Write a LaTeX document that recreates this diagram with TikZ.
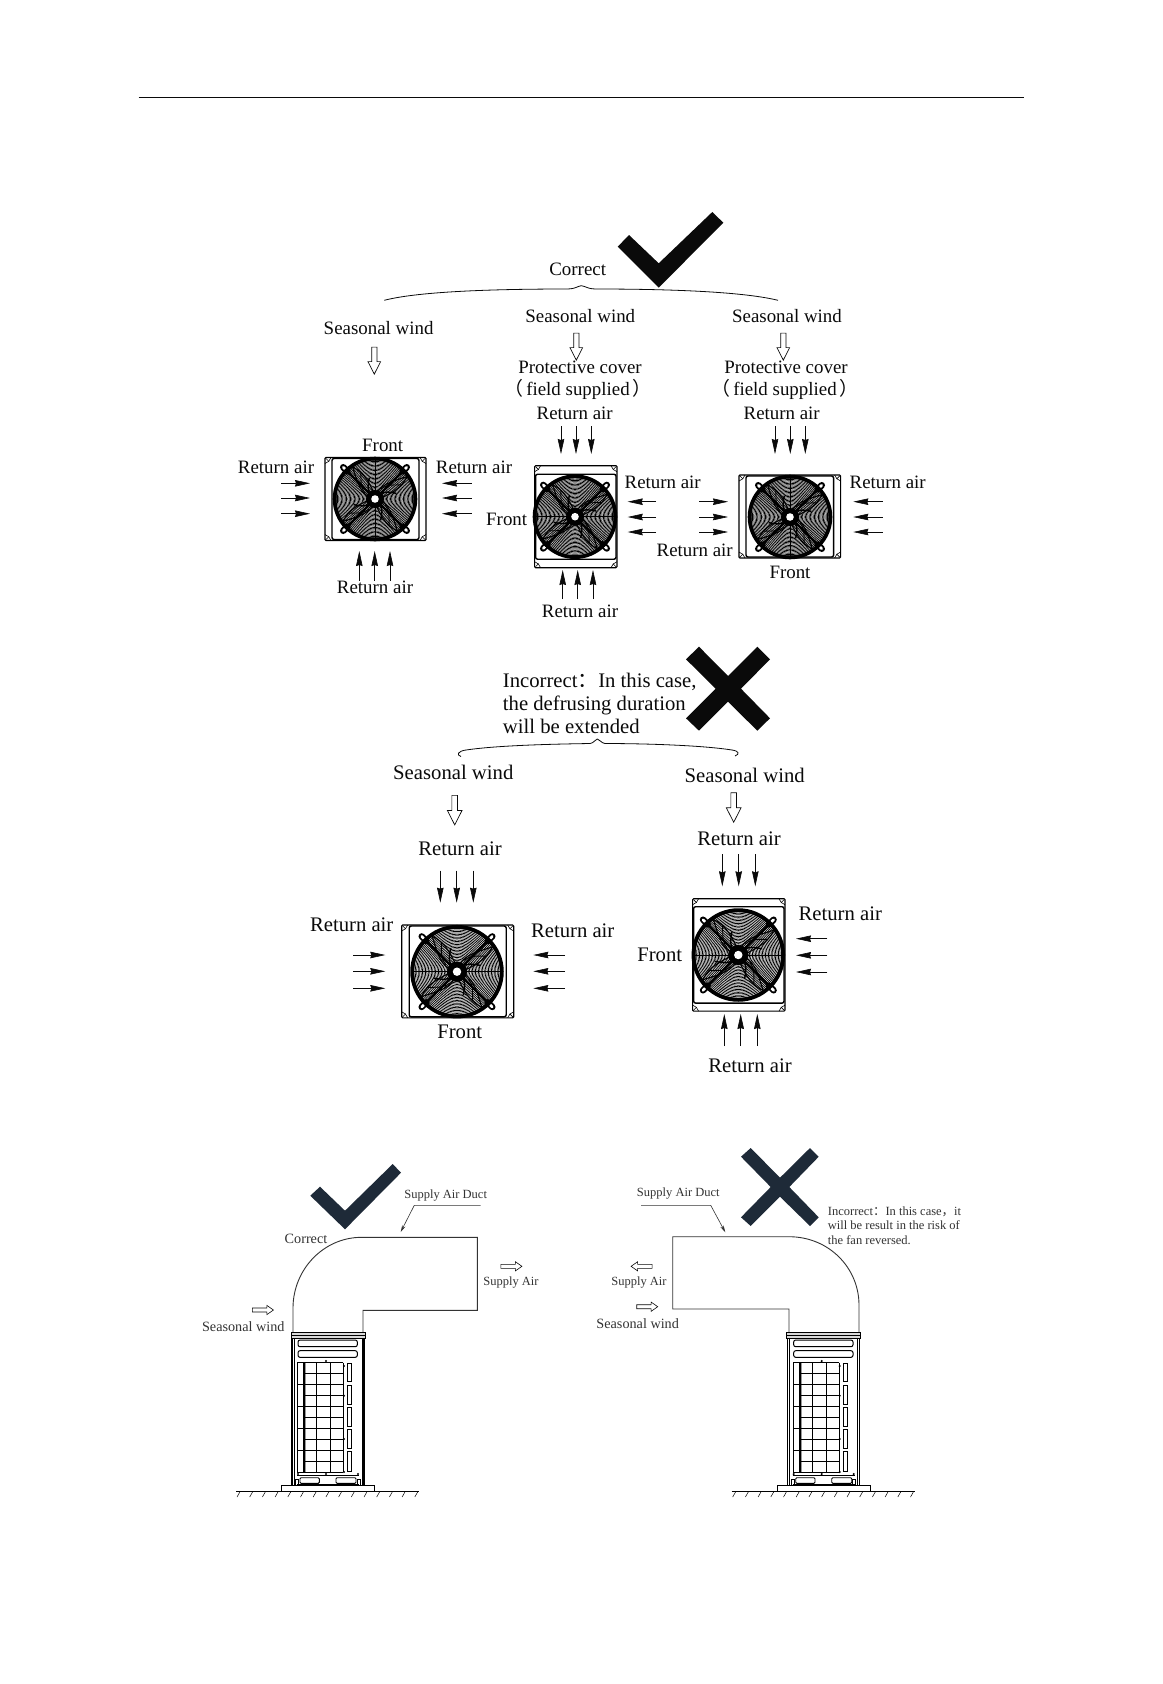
\documentclass[tikz,border=0pt]{standalone}
\usepackage{fontspec}
\setmainfont{Liberation Serif}
\newfontfamily\cjk{Noto Sans CJK SC}
\usepackage{xcolor}
\definecolor{ink}{HTML}{0A0A0A}
\definecolor{navy}{HTML}{1E2A38}
\definecolor{softink}{HTML}{333333}
\usetikzlibrary{arrows.meta,positioning,shapes.arrows}

\tikzset{
  pics/fanframe/.style n args={4}{code={
    \draw[line width=1.1pt, rounded corners=1pt] (-#1,-#2) rectangle (#1,#2);
    \draw[line width=1.4pt, rounded corners=2pt] (-#1+#3,-#2+#4) rectangle (#1-#3,#2-#4);
    \foreach \sx in {-1,1} \foreach \sy in {-1,1} {
      \draw[line width=.6pt] (\sx*#1-\sx*6,\sy*#2) .. controls (\sx*#1-\sx*5,\sy*#2-\sy*3) and (\sx*#1-\sx*3,\sy*#2-\sy*5) .. (\sx*#1,\sy*#2-\sy*6);
      \draw[line width=.6pt] (\sx*#1-\sx*1,\sy*#2-\sy*1) -- (\sx*#1-\sx*4,\sy*#2-\sy*4);
    }
  }},
  pics/fanwheel/.style={code={
    % ears and struts
    \foreach \a in {45,135,225,315} {
      \draw[line width=6.4pt, line cap=round] (\a:39) -- (\a:45);
      \draw[white, line width=2.6pt, line cap=round] (\a:42.5) -- (\a:45);
    }
    % wire guard
    \foreach \r in {9,10.3,...,39} {
      \draw[line width=.72pt] (0,0) circle (\r);
    }
    \foreach \a in {45,135,225,315} {
      \draw[line width=2.4pt] (\a:6) -- (\a:41);
    }
    % blades
    \foreach \a in {20,110,200,290} {
      \draw[line width=1.1pt] (\a:7) .. controls (\a+5:18) and (\a+30:30) .. (\a+35:39);
      \draw[line width=1.1pt] (\a+60:7) .. controls (\a+50:14) and (\a+50:28) .. (\a+35:39);
      \draw[line width=1.4pt] (\a+30:6) .. controls (\a+25:12) and (\a+45:16) .. (\a+55:22);
      \draw[line width=.9pt] (\a+12:12) .. controls (\a+20:20) and (\a+35:24) .. (\a+42:30);
    }
    \draw[line width=1pt] (0,-41) -- (0,41);
    \draw[line width=3.8pt] (0,0) circle (40.4);
    \fill (0,0) circle (9);
    \fill[white] (0,0) circle (3.8);
  }},
  pics/outdoorunit/.style={code={
    \draw[line width=.9pt, fill=black!15] (-1,-1) rectangle (73,5);
    \draw[line width=.6pt] (-1,2) -- (73,2);
    \draw[line width=1.2pt] (0,5) -- (0,152) (72,5) -- (72,152);
    \draw[line width=.6pt] (2,5) -- (2,152) (70,5) -- (70,152);
    \foreach \ya/\yb in {7/13.7,17.7/24.3} {
      \draw[line width=1pt, rounded corners=2pt] (6,\ya) rectangle (65.3,\yb);
    }
    \foreach \ya/\yb in {29.7/51.5,51.5/73.7,73.7/95.7,95.7/117.3,117.3/139} {
      \draw[line width=.7pt] (5.3,\ya) rectangle (11.3,\yb);
    }
    \foreach \ya/\yb in {30/48.3,52/71.7,74/93,96/115,118.3/138.3} {
      \draw[line width=.7pt] (55.3,\ya) rectangle (59.3,\yb);
    }
    \fill[black!40] (12,29.7) rectangle (14,139);
    \foreach \x in {12.3,24.7,38.3,51.3} {
      \draw[line width=1pt] (\x,29.7) -- (\x,139);
    }
    \foreach \y in {29.7,40.6,51.6,62.5,73.4,84.3,95.3,106.2,117.1,128,139} {
      \draw[line width=1pt] (12.3,\y) -- (51.3,\y);
    }
    \foreach \x/\y in {34/28,52/33,52/62.7,52/106,52/139,34/141,6/141,66/141} {
      \fill (\x,\y) circle (1.2);
    }
    \draw[line width=.8pt] (5,142.5) -- (67,142.5);
    \foreach \xa/\xb in {8/27.3,44/64} {
      \draw[line width=.9pt, rounded corners=1pt] (\xa,144.7) rectangle (\xb,150.3);
    }
    \foreach \xa/\xb in {3.7/6.7,65/68} {
      \draw[line width=.9pt] (\xa,146) rectangle (\xb,152);
    }
    \draw[line width=.8pt] (5,151.5) -- (67,151.5);
    \draw[line width=.9pt] (-10.3,152) rectangle (82.3,158.7);
    \draw[line width=.7pt] (-56,158.7) -- (127,158.7);
    \foreach \x in {-55,-42.3,...,125} {
      \draw[line width=.5pt] (\x,164) -- (\x+3,158.7);
    }
  }}
}

\begin{document}
\begin{tikzpicture}[x=1pt, y=-1pt,
  lbl/.style={inner sep=0pt, text=ink, font=\fontsize{18.9}{23}\selectfont},
  lblbig/.style={lbl, font=\fontsize{20.7}{23}\selectfont},
  lblmid/.style={inner sep=0pt, text=softink, font=\fontsize{14.2}{17}\selectfont},
  lblsmall/.style={inner sep=0pt, text=softink, font=\fontsize{12.5}{14.5}\selectfont},
  airflow/.style={-{Stealth[length=15pt, width=6.5pt, inset=1pt]}, line width=.6pt, color=ink},
  windbase/.style={draw=ink, single arrow, inner sep=0pt, line width=.7pt, fill=white,
                   text height=4.6pt, text depth=0pt, text width=0pt,
                   single arrow head extend=3.7pt, single arrow tip angle=54,
                   minimum height=27pt},
  windflow/.style={windbase, rotate=-90},
  windbig/.style={windflow, text height=5pt, single arrow head extend=4.5pt, minimum height=29.5pt},
  windsmall/.style={windbase, line width=.6pt, text height=3.4pt, single arrow head extend=2.6pt,
                    minimum height=21pt, single arrow tip angle=70},
  ductline/.style={line width=.9pt, color=softink},
  leader/.style={line width=.6pt, color=softink, -{Stealth[length=7pt, width=3.5pt]}}
]
\useasboundingbox (0,0) rectangle (1162,1684);
\fill[white] (0,0) rectangle (1162,1684);
\draw[line width=1pt, color=ink] (138.5,97.5) -- (1023.5,97.5);

% correct cases
\node[lbl] (correctTop) at (577.7,269.3) {Correct};
\fill[ink] (617.7,246.7) -- (629,235) -- (658.7,263.3) -- (712.3,212) -- (723.3,222.7) -- (658.7,287.7) -- cycle;
\draw[line width=.8pt, color=ink] (384.3,300.3) .. controls (420,291) and (500,289) .. (568,289) .. controls (575,289) and (578,286) .. (581.3,285.7) .. controls (585,286) and (588,289) .. (595,289) .. controls (660,289) and (740,291) .. (778,300.3);

\node[lbl] (windA) at (378.6,327.6) {Seasonal wind};
\node[lbl] (windB) at (580.3,316) {Seasonal wind};
\node[lbl] (windC) at (787,316) {Seasonal wind};
\node[windflow] (windArrowA) at (374.3,358) {};
\node[windflow] (windArrowB) at (576.3,344) {};
\node[windflow] (windArrowC) at (783.3,344) {};
\node[lbl] (coverB) at (580,367) {Protective cover};
\node[lbl] (fieldB) at (578,389.7) {{\cjk（}\hspace{3pt}field supplied\hspace{3pt}{\cjk）}};
\node[lbl] (coverC) at (786,367) {Protective cover};
\node[lbl] (fieldC) at (785,389.7) {{\cjk（}\hspace{3pt}field supplied\hspace{3pt}{\cjk）}};

\pic at (375.5,499) {fanframe={50.5}{41.5}{7}{1}};
\pic at (375,499) {fanwheel};
\pic at (575.8,516.7) {fanframe={41.2}{51}{1}{8.5}};
\pic[rotate=90] at (575,516.7) {fanwheel};
\pic at (789.8,516.5) {fanframe={50.8}{41.5}{7}{1}};
\pic[rotate=180] at (790,517) {fanwheel};

\node[lbl] (frontA) at (382.7,445.7) {Front};
\node[lbl] (leftA) at (276,467) {Return air};
\node[lbl] (rightA) at (474,467) {Return air};
\node[lbl] (bottomA) at (375,587) {Return air};
\foreach \y in {483.3,498,513.7} {
  \draw[airflow] (281,\y) -- (310,\y);
  \draw[airflow] (471.7,\y) -- (442,\y);
}
\foreach \x in {359.3,374.7,390} {
  \draw[airflow] (\x,580.7) -- (\x,551);
}

\node[lbl] (frontB) at (506.7,519) {Front};
\node[lbl] (topB) at (574.7,413) {Return air};
\node[lbl] (rightB) at (662.7,482) {Return air};
\node[lbl] (bottomB) at (580,611.7) {Return air};
\foreach \x in {561,576,591.3} {
  \draw[airflow] (\x,426) -- (\x,454);
}
\foreach \x in {562.7,577.7,593} {
  \draw[airflow] (\x,599) -- (\x,570);
}
\foreach \y in {501.7,517,532} {
  \draw[airflow] (656,\y) -- (627.7,\y);
  \draw[airflow] (699,\y) -- (728,\y);
  \draw[airflow] (882.7,\y) -- (853.3,\y);
}

\node[lbl] (leftC) at (694.7,550) {Return air};
\node[lbl] (topC) at (781.7,413) {Return air};
\node[lbl] (rightC) at (887.7,482) {Return air};
\node[lbl] (frontC) at (790,572.7) {Front};
\foreach \x in {775,790.3,805.3} {
  \draw[airflow] (\x,426) -- (\x,454);
}

% incorrect cases
\node[lblbig, anchor=west, align=left] (wrongTop) at (502.7,703) {Incorrect{\cjk：}In this case,\\the defrusing duration\\will be extended};
\fill[ink] (686,659.3) -- (699,646.7) -- (728,676) -- (757.3,646.7) -- (770,659.3) -- (741,688.7) -- (770,718.3) -- (757.3,730.7) -- (728,701.7) -- (699,730.7) -- (686,718.3) -- (715.7,688.7) -- cycle;
\draw[line width=.8pt, color=ink] (461,756.5) .. controls (456,755) and (458,751) .. (466,750) .. controls (500,745) and (560,744) .. (590,743.5) .. controls (594,743) and (595,739.5) .. (597.3,739) .. controls (600,739.5) and (601,743) .. (605,743.5) .. controls (640,743.5) and (700,745) .. (732,750) .. controls (739,751) and (740,754) .. (735,756);

\node[lblbig] (windD) at (453.3,772.3) {Seasonal wind};
\node[lblbig] (windE) at (744.7,775.7) {Seasonal wind};
\node[windbig] (windArrowD) at (454.7,807.3) {};
\node[windbig] (windArrowE) at (733.7,804.7) {};

\pic at (457.7,971.4) {fanframe={56}{46.4}{7.5}{1}};
\pic[scale=1.11,rotate=270] at (457,971.7) {fanwheel};
\pic at (738.8,954.9) {fanframe={46.2}{56.2}{1}{8}};
\pic[scale=1.11,rotate=90] at (738.3,955) {fanwheel};

\node[lblbig] (topD) at (460,849) {Return air};
\node[lblbig] (leftD) at (351.7,924.3) {Return air};
\node[lblbig] (rightD) at (572.7,930.3) {Return air};
\node[lblbig] (frontD) at (459.7,1031.7) {Front};
\foreach \x in {440.3,456.7,473.3} {
  \draw[airflow] (\x,870.7) -- (\x,902.7);
}
\foreach \y in {955,971.3,988.3} {
  \draw[airflow] (353.3,\y) -- (385.3,\y);
  \draw[airflow] (565,\y) -- (533.3,\y);
}

\node[lblbig] (topE) at (739,839) {Return air};
\node[lblbig] (rightE) at (840.3,913.7) {Return air};
\node[lblbig] (frontE) at (659.7,955) {Front};
\node[lblbig] (bottomE) at (750,1065.7) {Return air};
\foreach \x in {722.3,738.7,755.3} {
  \draw[airflow] (\x,854.3) -- (\x,886.3);
}
\foreach \y in {938.7,955.3,972} {
  \draw[airflow] (827.3,\y) -- (796,\y);
}
\foreach \x in {724.3,740.7,757.3} {
  \draw[airflow] (\x,1046) -- (\x,1014);
}

% duct, correct
\fill[navy] (310.3,1195.7) -- (320,1186.7) -- (345,1210.7) -- (392.7,1164) -- (401,1172.7) -- (345,1229.3) -- cycle;
\node[lblmid] (correctDuct) at (306,1239) {Correct};
\node[lblsmall] (ductL) at (445.7,1195) {Supply Air Duct};
\coordinate (ductLa) at (480.7,1205.3);
\coordinate (ductLb) at (414.3,1205.3);
\coordinate (ductLc) at (400.7,1232);
\draw[leader] (ductLa) -- (ductLb) -- (ductLc);
\draw[ductline] (293,1333) -- (293,1308) .. controls (293,1270) and (323,1237.3) .. (361.7,1237.3) -- (477.3,1237.3) -- (477.3,1310.3) -- (363,1310.3) -- (363,1333);
\node[lblsmall] (supplyL) at (511,1282.3) {Supply Air};
\node[windsmall] (supplyArrowL) at (510,1266.3) {};
\node[lblmid] (windF) at (243.3,1327) {Seasonal wind};
\node[windsmall] (windArrowF) at (261.5,1310) {};
\pic at (292,1333) {outdoorunit};

% duct, incorrect
\fill[navy] (741,1156.7) -- (750.7,1148) -- (780,1177.7) -- (810,1148) -- (818.7,1156.7) -- (789.3,1187) -- (818.7,1217.3) -- (810,1226) -- (780,1196.7) -- (750.7,1226) -- (741,1217.3) -- (770.7,1187) -- cycle;
\node[lblsmall, anchor=west, align=left] (wrongDuct) at (827.7,1225.7) {Incorrect{\cjk：}In this case{\cjk，}it\\will be result in the risk of\\the fan reversed.};
\node[lblsmall] (ductR) at (678.3,1193.5) {Supply Air Duct};
\coordinate (ductRa) at (641,1205.3);
\coordinate (ductRb) at (710.7,1205.3);
\coordinate (ductRc) at (725.3,1232.3);
\draw[leader] (ductRa) -- (ductRb) -- (ductRc);
\draw[ductline] (859,1333) -- (859,1305) .. controls (859,1268) and (829,1236.7) .. (789,1236.7) -- (672.7,1236.7) -- (672.7,1309) -- (789,1309) -- (789,1333);
\node[lblsmall] (supplyR) at (639,1282) {Supply Air};
\node[windsmall, rotate=180] (supplyArrowR) at (643,1266.3) {};
\node[lblmid] (windG) at (637.7,1324) {Seasonal wind};
\node[windsmall] (windArrowG) at (645.8,1306.7) {};
\pic at (787.7,1333) {outdoorunit};
\end{tikzpicture}
\end{document}
